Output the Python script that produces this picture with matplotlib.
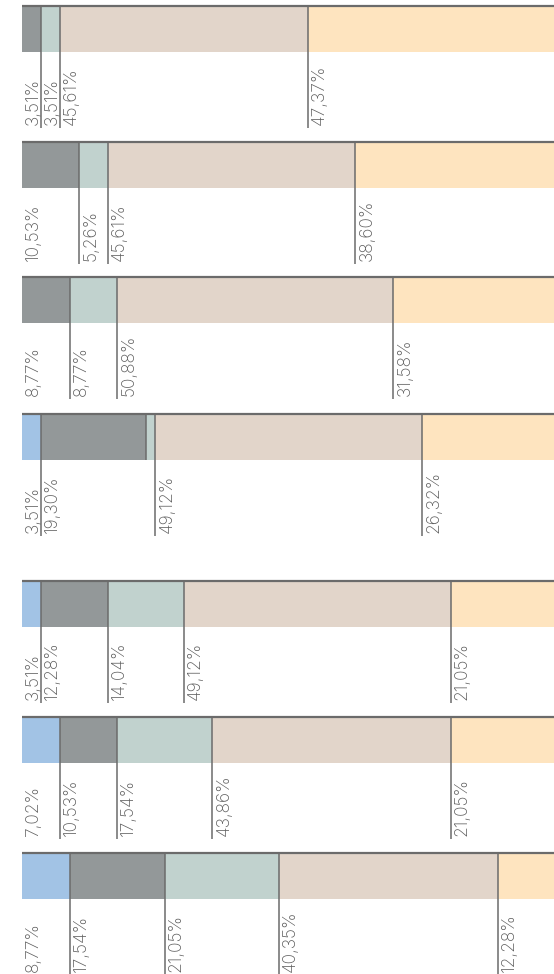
import matplotlib
matplotlib.use('Agg')
import matplotlib.pyplot as plt
import matplotlib.transforms as mtransforms

# segment shares (%) per bar, top to bottom
BLUE = [0, 0, 0, 3.51, 3.51, 7.02, 8.77]
GRAY = [3.51, 10.53, 8.77, 19.30, 12.28, 10.53, 17.54]
TEAL = [3.51, 5.26, 8.77, 1.75, 14.04, 17.54, 21.05]
BEIGE = [45.61, 45.61, 50.88, 49.12, 49.12, 43.86, 40.35]
ORANGE = [47.37, 38.60, 31.58, 26.32, 21.05, 21.05, 12.28]
SHOW_TEAL = [True, True, True, False, True, True, True]

COLORS = ['#a2c3e5', '#939899', '#c1d2ce', '#e2d5ca', '#fee4bf']
LINE = '#6b6b6b'
TEXT = '#5e5e5e'

# layout (pixel rows of bar centres)
Y = [29, 165, 300, 437, 604, 740, 876]
H = 46
LAB_GAP = 73

plt.rcParams['font.family'] = ['Inter', 'DejaVu Sans']

fig = plt.figure(figsize=(5.54, 9.74), dpi=100)
ax = fig.add_axes([22 / 554, 0, 1 - 22 / 554, 1])
ax.set_xlim(0, 98)
ax.set_ylim(974, 0)
ax.axis('off')

off = mtransforms.offset_copy(ax.transData, fig=fig, x=3, y=0, units='dots')

for i, y in enumerate(Y):
    vals = [BLUE[i], GRAY[i], TEAL[i], BEIGE[i], ORANGE[i]]
    show = [True, True, SHOW_TEAL[i], True, True]
    left = 0
    first = True
    top = y - H / 2
    bot = y + H / 2
    for v, c, s in zip(vals, COLORS, show):
        if v == 0:
            continue
        ax.barh(y, v, left=left, height=H, color=c, linewidth=0)
        if not first:
            yb = bot + LAB_GAP + 3 if s else bot
            ax.vlines(left, top, yb, color=LINE, linewidth=1.1, zorder=3)
        if s:
            lab = f'{v:.2f}%'.replace('.', ',')
            ax.text(left, bot + LAB_GAP, lab, rotation=90, ha='left', va='bottom',
                    fontsize=12.5, fontweight='light', color=TEXT, transform=off)
        left += v
        first = False
    ax.hlines(top, 0, 100, color=LINE, linewidth=1.6, zorder=4)

fig.savefig('out.png', dpi=100)
